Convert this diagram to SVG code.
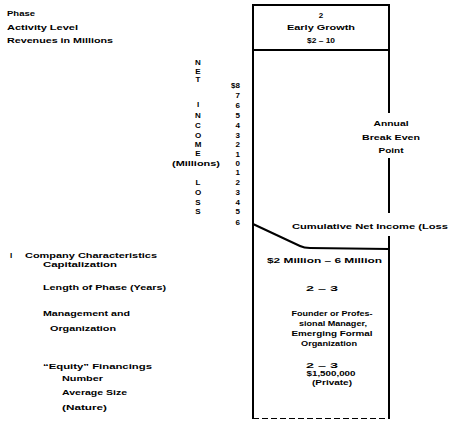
<svg xmlns="http://www.w3.org/2000/svg" width="449" height="430" viewBox="0 0 449 430">
<style>
text{font-family:"Liberation Sans",Arial,sans-serif;font-weight:bold;font-size:8px;fill:#000}
.m{text-anchor:middle}
.e{text-anchor:end}
.ln{stroke:#000;stroke-width:2;fill:none}
</style>
<rect width="449" height="430" fill="#fff"/>
<g id="row-labels">
<text x="7" y="16" textLength="28" lengthAdjust="spacingAndGlyphs">Phase</text>
<text x="7" y="29.5" textLength="71" lengthAdjust="spacingAndGlyphs">Activity Level</text>
<text x="7" y="43" textLength="106" lengthAdjust="spacingAndGlyphs">Revenues in Millions</text>
</g>
<g id="axis-label">
<text class="m" x="198" y="65">N</text>
<text class="m" x="198" y="73.5">E</text>
<text class="m" x="198" y="82">T</text>
<text class="m" x="198" y="107">I</text>
<text class="m" x="198" y="118">N</text>
<text class="m" x="198" y="128">C</text>
<text class="m" x="198" y="138">O</text>
<text class="m" x="198" y="147">M</text>
<text class="m" x="198" y="156">E</text>
<text class="m" x="196" y="166" textLength="48" lengthAdjust="spacingAndGlyphs">(Millions)</text>
<text class="m" x="198" y="185">L</text>
<text class="m" x="198" y="195">O</text>
<text class="m" x="198" y="205">S</text>
<text class="m" x="198" y="214">S</text>
</g>
<g id="axis-scale">
<text class="e" x="240" y="88">$8</text>
<text class="e" x="240" y="98">7</text>
<text class="e" x="240" y="108">6</text>
<text class="e" x="240" y="118">5</text>
<text class="e" x="240" y="128">4</text>
<text class="e" x="240" y="138">3</text>
<text class="e" x="240" y="147">2</text>
<text class="e" x="240" y="157">1</text>
<text class="e" x="240" y="166">0</text>
<text class="e" x="240" y="175">1</text>
<text class="e" x="240" y="185">2</text>
<text class="e" x="240" y="195">3</text>
<text class="e" x="240" y="205">4</text>
<text class="e" x="240" y="214">5</text>
<text class="e" x="240" y="225">6</text>
</g>
<g id="characteristics-labels">
<text x="10" y="258">I</text>
<text x="25" y="258" textLength="132" lengthAdjust="spacingAndGlyphs">Company Characteristics</text>
<text x="43" y="267" textLength="74" lengthAdjust="spacingAndGlyphs">Capitalization</text>
<text x="43" y="290" textLength="123" lengthAdjust="spacingAndGlyphs">Length of Phase (Years)</text>
<text x="43" y="316" textLength="87" lengthAdjust="spacingAndGlyphs">Management and</text>
<text x="50" y="331" textLength="66" lengthAdjust="spacingAndGlyphs">Organization</text>
<text x="43" y="369" textLength="109" lengthAdjust="spacingAndGlyphs">“Equity” Financings</text>
<text x="62" y="381" textLength="41" lengthAdjust="spacingAndGlyphs">Number</text>
<text x="62" y="395" textLength="65" lengthAdjust="spacingAndGlyphs">Average Size</text>
<text x="62" y="410" textLength="45" lengthAdjust="spacingAndGlyphs">(Nature)</text>
</g>
<g id="phase-header">
<text class="m" x="321" y="18">2</text>
<text class="m" x="321" y="30" textLength="68" lengthAdjust="spacingAndGlyphs">Early Growth</text>
<text class="m" x="321" y="43" textLength="28" lengthAdjust="spacingAndGlyphs">$2 – 10</text>
</g>
<g id="phase-column">
<text class="m" x="391" y="126" textLength="35" lengthAdjust="spacingAndGlyphs">Annual</text>
<text class="m" x="391" y="140" textLength="58" lengthAdjust="spacingAndGlyphs">Break Even</text>
<text class="m" x="391" y="153" textLength="25" lengthAdjust="spacingAndGlyphs">Point</text>
<text x="292" y="229" textLength="156" lengthAdjust="spacingAndGlyphs">Cumulative Net Income (Loss</text>
<text x="267" y="263" textLength="115" lengthAdjust="spacingAndGlyphs">$2 Million – 6 Million</text>
<text class="m" x="322" y="291" textLength="32" lengthAdjust="spacingAndGlyphs">2 – 3</text>
<text class="m" x="332" y="316" textLength="81" lengthAdjust="spacingAndGlyphs">Founder or Profes-</text>
<text class="m" x="333" y="326" textLength="68" lengthAdjust="spacingAndGlyphs">sional Manager,</text>
<text class="m" x="332" y="336" textLength="81" lengthAdjust="spacingAndGlyphs">Emerging Formal</text>
<text class="m" x="329" y="346" textLength="56" lengthAdjust="spacingAndGlyphs">Organization</text>
<text class="m" x="322" y="368" textLength="32" lengthAdjust="spacingAndGlyphs">2 – 3</text>
<text class="m" x="331" y="376" textLength="49" lengthAdjust="spacingAndGlyphs">$1,500,000</text>
<text class="m" x="332" y="385" textLength="40" lengthAdjust="spacingAndGlyphs">(Private)</text>
</g>
<g id="connectors">
<path class="ln" d="M253 5 H389 M253 50 H389 M253 4 V419 M389 4 V113 M389 158 V213 M389 236 V419"/>
<path d="M253 418.5 H389" stroke="#000" stroke-width="1.2" stroke-dasharray="6 3" fill="none"/>
<path class="ln" d="M253 224 L300 246 Q304 248 310 248 L389 249"/>
</g>
</svg>
